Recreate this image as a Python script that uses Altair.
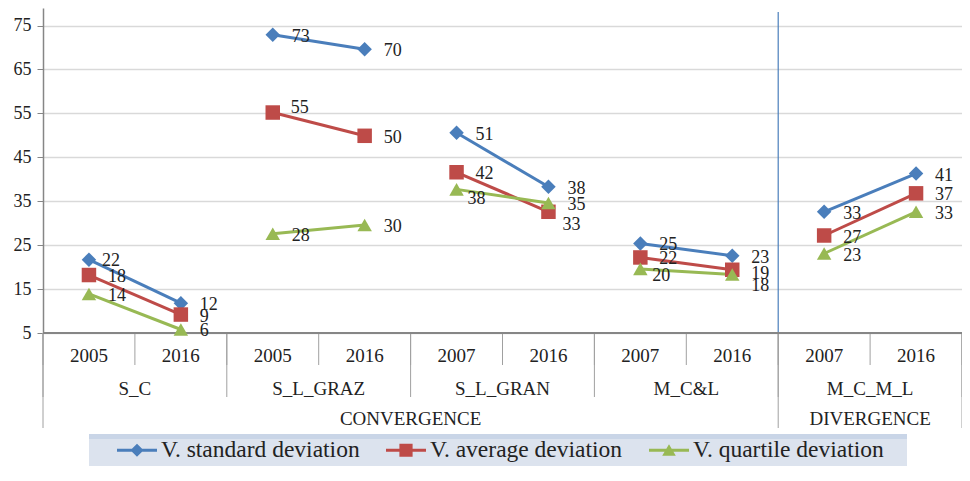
import altair as alt
import pandas as pd

# ---------------- data ----------------
years = ["2005", "2016", "2005", "2016", "2007", "2016", "2007", "2016", "2007", "2016"]
groups = ["S_C", "S_C", "S_L_GRAZ", "S_L_GRAZ", "S_L_GRAN", "S_L_GRAN",
          "M_C&L", "M_C&L", "M_C_M_L", "M_C_M_L"]
metas = ["CONVERGENCE"] * 8 + ["DIVERGENCE"] * 2
series_names = ["V. standard deviation", "V. average deviation", "V. quartile deviation"]
std_dev = [21.7, 11.8, 72.9, 69.6, 50.6, 38.3, 25.4, 22.6, 32.6, 41.3]
avg_dev = [18.2, 9.2, 55.2, 49.9, 41.6, 32.6, 22.2, 19.4, 27.2, 36.8]
quart_dev = [13.9, 5.8, 27.6, 29.6, 37.7, 34.6, 19.6, 18.3, 23.1, 32.6]
y_ticks = [5, 15, 25, 35, 45, 55, 65, 75]

# ---------------- styles ----------------
COLORS = ["#4a7ebb", "#be4b48", "#98b954"]
SHAPES = ["diamond", "square", "triangle-up"]
BAR = "M-1,-0.075H1V0.075H-1Z"
LEGEND_SHAPES = [
    BAR + " M0,-0.33L0.33,0L0,0.33L-0.33,0Z",
    BAR + " M-0.33,-0.33H0.33V0.33H-0.33Z",
    BAR + " M0,-0.3L0.34,0.27L-0.34,0.27Z",
]
FONT = "Liberation Serif, Times New Roman, serif"
W, H = 919, 325
# label nudges (pixels) as placed in the original: (series index, category index) -> (dx, dy)
LABEL_DEFAULT = (19, 2)
LABEL_NUDGE = {(0, 0): (13, 1), (1, 2): (18, -5), (2, 4): (11, 10), (1, 5): (14, 13),
               (2, 6): (12, 7), (1, 7): (19, 4), (2, 7): (19, 11)}

# ---------------- tables ----------------
n = len(years)
cats = pd.DataFrame({"pos": [i + 0.5 for i in range(n)], "year": years,
                     "group": groups, "meta": metas})
rows = []
for s, (name, vals) in enumerate(zip(series_names, [std_dev, avg_dev, quart_dev])):
    for i in range(n):
        ndx, ndy = LABEL_NUDGE.get((s, i), LABEL_DEFAULT)
        rows.append({"series": name, "pos": i + 0.5, "group": groups[i], "value": vals[i],
                     "ndx": ndx, "ndy": ndy})
long = pd.DataFrame(rows)

grp = cats.groupby("group", sort=False)["pos"].mean().reset_index()
met = cats.groupby("meta", sort=False)["pos"].mean().reset_index()

all_b = pd.DataFrame({"b": list(range(n + 1))})
group_b = pd.DataFrame({"b": [0] + [i for i in range(1, n) if groups[i] != groups[i - 1]] + [n]})
meta_b = pd.DataFrame({"b": [0] + [i for i in range(1, n) if metas[i] != metas[i - 1]] + [n]})
div_b = pd.DataFrame({"b": [i for i in range(1, n) if metas[i] != metas[i - 1]]})
base_df = pd.DataFrame({"b0": [0], "b1": [n], "value": [y_ticks[0]]})

xs = alt.Scale(domain=[0, n], nice=False, zero=False)
ys = alt.Scale(domain=[5, 79], nice=False, zero=False)
X = alt.X("pos:Q", scale=xs, axis=None)
XB = alt.X("b:Q", scale=xs, axis=None)
Y = alt.Y("value:Q", scale=ys,
          axis=alt.Axis(values=y_ticks, title=None, grid=True, gridColor="#d9d9d9",
                        gridWidth=1.5, domainColor="#868686", domainWidth=1.5,
                        tickColor="#868686", tickSize=6, labelFont=FONT,
                        labelFontSize=18, labelColor="#222222", labelPadding=6))

# background of legend
legend_bg = alt.Chart(pd.DataFrame({"k": [0]})).mark_rect(color="#dce3ee").encode(
    x=alt.value(46), x2=alt.value(864), y=alt.value(426), y2=alt.value(458))
legend_top = alt.Chart(pd.DataFrame({"k": [0]})).mark_rect(color="#c9d5e7").encode(
    x=alt.value(46), x2=alt.value(864), y=alt.value(426), y2=alt.value(431))

legend_layer = alt.Chart(long).transform_filter("datum.value > 1000").mark_point(
    filled=True, opacity=1
).encode(
    x=X, y=Y,
    color=alt.Color("series:N", scale=alt.Scale(domain=series_names, range=COLORS),
                    legend=alt.Legend(orient="none", legendX=74, legendY=422,
                                      direction="horizontal", title=None,
                                      symbolSize=1600, symbolStrokeWidth=0,
                                      symbolOpacity=1, labelFont=FONT,
                                      labelFontSize=23.5, labelColor="#222222",
                                      labelOffset=4, columnPadding=26,
                                      labelLimit=600, padding=0)),
    shape=alt.Shape("series:N", scale=alt.Scale(domain=series_names, range=LEGEND_SHAPES)),
)

xaxis_line = alt.Chart(base_df).mark_rule(color="#868686", strokeWidth=2).encode(
    x=alt.X("b0:Q", scale=xs, axis=None), x2="b1:Q", y=Y
)

series_layers = []
for name, col in zip(series_names, COLORS):
    d = long[long["series"] == name]
    series_layers.append(
        alt.Chart(d).mark_line(strokeWidth=3, color=col).encode(x=X, y=Y, detail="group:N")
    )
for name, col, shp in zip(series_names, COLORS, SHAPES):
    d = long[long["series"] == name]
    series_layers.append(
        alt.Chart(d).mark_point(filled=True, opacity=1, size=210, color=col, shape=shp).encode(x=X, y=Y)
    )

label_layers = []
for (ndx, ndy), d in long.groupby(["ndx", "ndy"]):
    label_layers.append(
        alt.Chart(d).mark_text(
            align="left", baseline="middle", dx=int(ndx), dy=int(ndy),
            font=FONT, fontSize=18, color="#222222"
        ).encode(x=X, y=Y, text=alt.Text("value:Q", format=".0f"))
    )

divider = alt.Chart(div_b).mark_rule(color="#4a7ebb", strokeWidth=1.2).encode(
    x=XB, y=alt.value(4), y2=alt.value(H)
)
sep_short = alt.Chart(all_b).mark_rule(color="#a0a0a0", strokeWidth=1).encode(
    x=XB, y=alt.value(H), y2=alt.value(357)
)
sep_group = alt.Chart(group_b).mark_rule(color="#a0a0a0", strokeWidth=1).encode(
    x=XB, y=alt.value(H), y2=alt.value(389)
)
sep_meta = alt.Chart(meta_b).mark_rule(color="#a0a0a0", strokeWidth=1).encode(
    x=XB, y=alt.value(H), y2=alt.value(420)
)

txt = dict(font=FONT, fontSize=19, color="#222222", baseline="middle")
year_txt = alt.Chart(cats).mark_text(**txt).encode(x=X, y=alt.value(348), text="year:N")
group_txt = alt.Chart(grp).mark_text(**txt).encode(x=X, y=alt.value(381), text="group:N")
meta_txt = alt.Chart(met).mark_text(**txt).encode(x=X, y=alt.value(411), text="meta:N")

chart = alt.layer(
    legend_bg, legend_top, legend_layer, divider, sep_short, sep_group, sep_meta, xaxis_line,
    *series_layers, *label_layers, year_txt, group_txt, meta_txt
).properties(
    width=W, height=H,
    autosize=alt.AutoSizeParams(type="none"),
    padding={"left": 35, "top": 0, "right": 0, "bottom": 133},
).configure_view(stroke=None)

chart.save("out.html", embed_options={"renderer": "svg", "actions": False})
